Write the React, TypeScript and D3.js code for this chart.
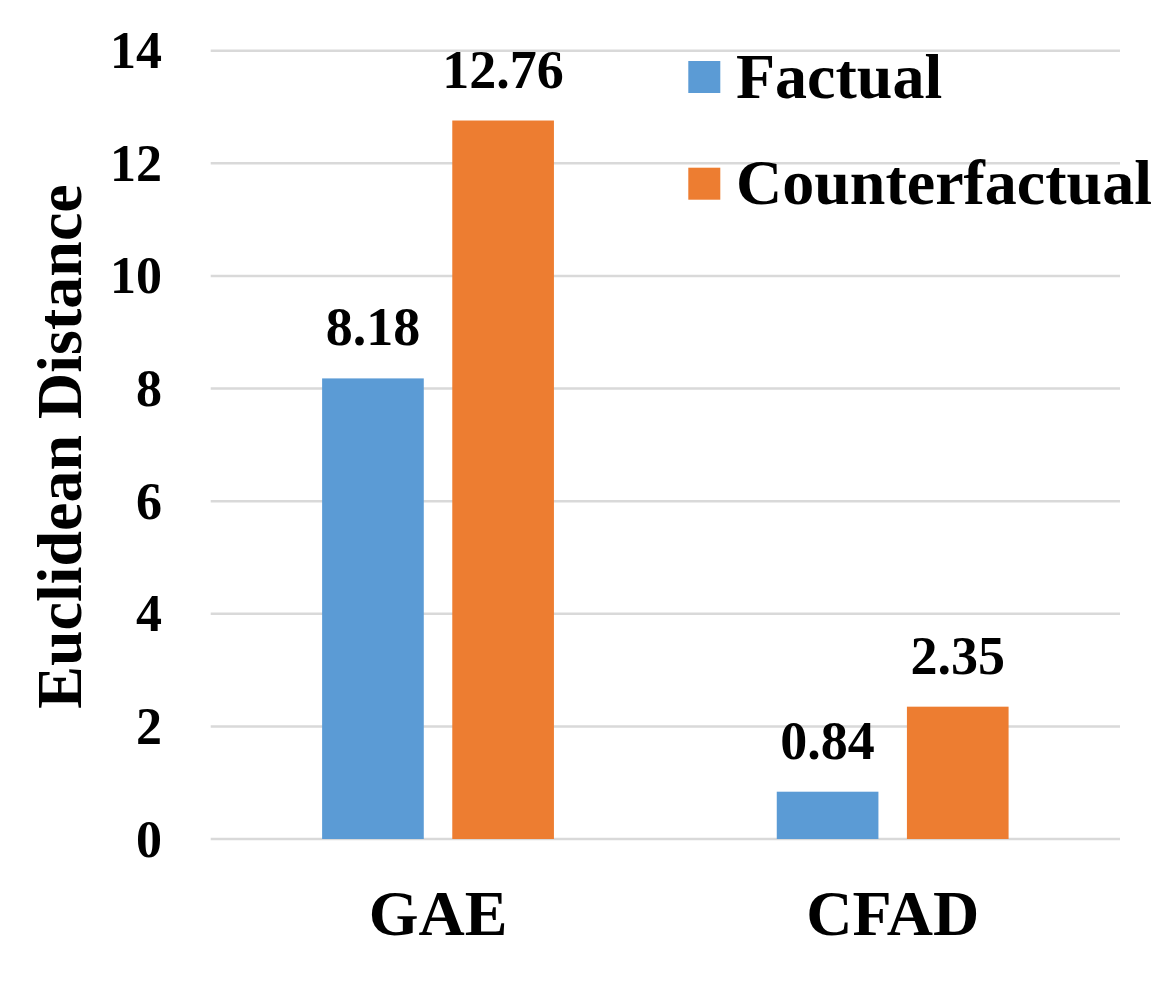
import React from "react";
import * as d3 from "d3";

const categories = ["GAE", "CFAD"];
const seriesNames = ["Factual", "Counterfactual"];
const factualValues = [8.18, 0.84];
const counterfactualValues = [12.76, 2.35];
const valueLabels = [["8.18", "12.76"], ["0.84", "2.35"]];
const yTicks = [0, 2, 4, 6, 8, 10, 12, 14];
const colors = ["#5B9BD5", "#ED7D31"];

const W = 1172;
const H = 990;
const FONT = "'Liberation Serif', 'Times New Roman', Times, serif";

export default function App() {
  const y = d3.scaleLinear().domain([0, 14]).range([839, 50.7]);
  const x0 = d3.scaleBand<string>().domain(categories).range([210.7, 1120]).padding(0);
  const x1 = d3
    .scaleBand<string>()
    .domain(seriesNames)
    .range([0, x0.bandwidth()])
    .paddingInner(0.219)
    .paddingOuter(0.856);
  const seriesValues = [factualValues, counterfactualValues];

  return (
    <svg
      width={W}
      height={H}
      style={{ position: "absolute", left: 0, top: 0, background: "#fff" }}
      fontFamily={FONT}
      fontWeight="bold"
    >
      <rect x={0} y={0} width={W} height={H} fill="#fff" />
      {yTicks.map((t) => (
        <g key={t}>
          <line x1={210.7} x2={1120} y1={y(t)} y2={y(t)} stroke="#d9d9d9" strokeWidth={2.5} />
          <text x={162} y={y(t)} textAnchor="end" dominantBaseline="central" fontSize={52} fill="#000">
            {t}
          </text>
        </g>
      ))}
      {categories.map((c, ci) => (
        <g key={c}>
          {seriesNames.map((s, si) => {
            const v = seriesValues[si][ci];
            const bx = (x0(c) as number) + (x1(s) as number);
            return (
              <g key={s}>
                <rect x={bx} y={y(v)} width={x1.bandwidth()} height={y(0) - y(v)} fill={colors[si]} />
                <text
                  x={bx + x1.bandwidth() / 2}
                  y={y(v) - 33}
                  textAnchor="middle"
                  fontSize={54}
                  fill="#000"
                >
                  {valueLabels[ci][si]}
                </text>
              </g>
            );
          })}
          <text
            x={(x0(c) as number) + x0.bandwidth() / 2}
            y={935}
            textAnchor="middle"
            fontSize={64}
            fill="#000"
          >
            {c}
          </text>
        </g>
      ))}
      <text
        transform={`translate(81, 446.5) rotate(-90)`}
        textAnchor="middle"
        fontSize={64}
        fill="#000"
      >
        Euclidean Distance
      </text>
      {seriesNames.map((s, si) => (
        <g key={s}>
          <rect x={688.3} y={61 + si * 106.7} width={32} height={32} fill={colors[si]} />
          <text x={736} y={97.7 + si * 106} fontSize={64} fill="#000">
            {s}
          </text>
        </g>
      ))}
    </svg>
  );
}
